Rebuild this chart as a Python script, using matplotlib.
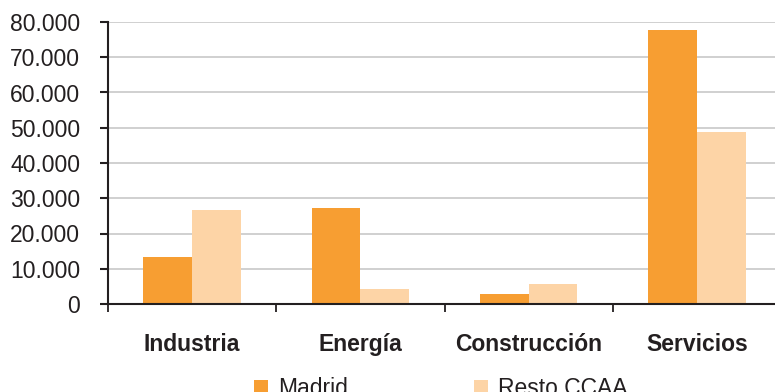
import numpy as np
import matplotlib
matplotlib.use("Agg")
from matplotlib import pyplot as plt
from matplotlib.ticker import FuncFormatter

# data
sectores = ['Industria', 'Energía', 'Construcción', 'Servicios']
madrid = [13300, 27200, 2800, 77700]
resto_ccaa = [26700, 4300, 5700, 48800]
series_names = ['Madrid', 'Resto CCAA']
yticks = [0, 10000, 20000, 30000, 40000, 50000, 60000, 70000, 80000]

c_madrid = '#f79e32'
c_resto = '#fdd4a6'
c_text = '#231f20'

plt.rcParams['font.family'] = ['Liberation Sans', 'DejaVu Sans']
plt.rcParams['font.size'] = 16.5

fig = plt.figure(figsize=(7.75, 3.92), dpi=100)
ax = fig.add_axes([108 / 775, 88 / 392, 673 / 775, 282 / 392])

x = np.arange(len(sectores))
w = 0.29
ax.bar(x - w / 2, madrid, w, color=c_madrid, label=series_names[0], zorder=2)
ax.bar(x + w / 2, resto_ccaa, w, color=c_resto, label=series_names[1], zorder=2)

ax.set_xlim(-0.5, len(sectores) - 0.5)
ax.set_ylim(0, 80000)
ax.set_yticks(yticks)
ax.yaxis.set_major_formatter(FuncFormatter(lambda v, p: '{:,.0f}'.format(v).replace(',', '.')))
ax.grid(axis='y', color='#c8c8c8', linewidth=1.2, zorder=0)

ax.set_xticks(x)
ax.set_xticklabels(sectores, fontweight='bold')
ax.set_xticks(np.arange(-0.5, len(sectores), 1.0), minor=True)
ax.tick_params(axis='x', which='major', length=0, pad=21, colors=c_text)
ax.tick_params(axis='x', which='minor', length=6, width=1.3, direction='out', color=c_text)
ax.tick_params(axis='y', length=6, width=1.5, pad=14, colors=c_text)

for s in ['top', 'right']:
    ax.spines[s].set_visible(False)
for s in ['left', 'bottom']:
    ax.spines[s].set_color(c_text)
    ax.spines[s].set_linewidth(1.5)

leg = fig.legend(loc='upper center', bbox_to_anchor=(441 / 775, 15 / 392), ncol=2,
                 frameon=False, handlelength=0.6, handleheight=0.6,
                 handletextpad=0.45, columnspacing=5.5, borderaxespad=0,
                 borderpad=0)
for t in leg.get_texts():
    t.set_color(c_text)

fig.savefig('out.png', dpi=100)
